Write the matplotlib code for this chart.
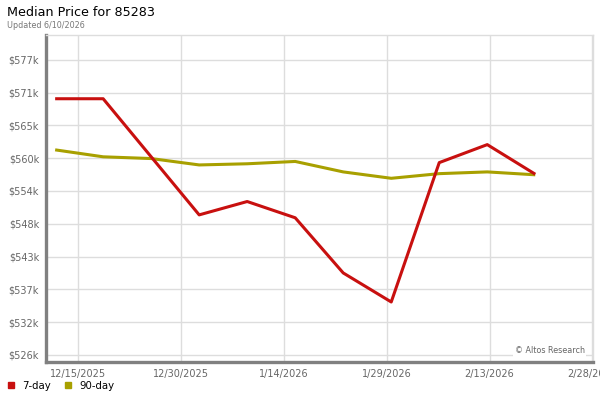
import matplotlib
matplotlib.use("Agg")
import matplotlib.pyplot as plt
import matplotlib.dates as mdates
from matplotlib.lines import Line2D
from matplotlib.ticker import FuncFormatter
import numpy as np
import pandas as pd

# weekly data points
dates = pd.date_range("2025-12-11 16:00", periods=11, freq="7D")
seven_day = [570000, 570000, 560000, 550000, 552300, 549500, 540000, 535000, 559000, 562100, 557000]
ninety_day = [561200, 560000, 559700, 558600, 558800, 559200, 557400, 556300, 557100, 557400, 556900]

x_ticks = ["2025-12-15", "2025-12-30", "2026-01-14", "2026-01-29", "2026-02-13", "2026-02-28"]
y_start = 525870
y_step = 5650

red = "#c8100f"
olive = "#a8a000"
grey = "#808080"

fig = plt.figure(figsize=(6, 4), dpi=100)
ax = fig.add_axes([46 / 600, 1 - 362 / 400, (593 - 46) / 600, (362 - 35) / 400])

ax.plot(dates, ninety_day, color=olive, lw=2.2, solid_capstyle="butt", zorder=3)
ax.plot(dates, seven_day, color=red, lw=2.2, solid_capstyle="butt", zorder=4)

yt = [y_start + i * y_step for i in range(10)]
ax.set_yticks(yt)
ax.yaxis.set_major_formatter(FuncFormatter(lambda v, p: "$%dk" % round(v / 1000)))
ax.set_ylim(y_start - 7 / 5.807 * 1000, y_start + 320 / 5.807 * 1000)

ax.set_xticks(pd.to_datetime(x_ticks))
ax.xaxis.set_major_formatter(FuncFormatter(
    lambda v, p: "%d/%d/%d" % (mdates.num2date(v).month, mdates.num2date(v).day, mdates.num2date(v).year)))
ax.set_xlim(pd.Timestamp("2025-12-10 08:00"), pd.Timestamp("2026-02-28 02:00"))

ax.grid(True, color="#dddddd", lw=1)
ax.set_axisbelow(True)
ax.tick_params(length=0, labelsize=7, labelcolor="#666666")
ax.tick_params(axis="y", pad=5)
ax.tick_params(axis="x", pad=5)

for s in ["top", "right"]:
    ax.spines[s].set_color("#dddddd")
    ax.spines[s].set_linewidth(1)
for s in ["left", "bottom"]:
    ax.spines[s].set_color(grey)
    ax.spines[s].set_linewidth(2.4)

ax.text(0.985, 0.02, "\u00a9 Altos Research", transform=ax.transAxes, ha="right", va="bottom",
        fontsize=5.8, color="#666666", bbox=dict(facecolor="white", edgecolor="none", pad=1), zorder=5)

fig.text(7 / 600, 1 - 13 / 400, "Median Price for 85283", fontsize=9.2, va="center", ha="left")
fig.text(7 / 600, 1 - 25 / 400, "Updated 6/10/2026", fontsize=5.8, va="center", ha="left", color="#777777")

handles = [Line2D([], [], marker="s", color=red, ls="none", markersize=5),
           Line2D([], [], marker="s", color=olive, ls="none", markersize=5)]
fig.legend(handles, ["7-day", "90-day"], loc="center left", bbox_to_anchor=(0.0, 1 - 386 / 400),
           ncol=2, frameon=False, fontsize=7.3, handlelength=0.8, handletextpad=0.7, columnspacing=1.3,
           borderpad=0.2)

fig.savefig("out.png", dpi=100)
